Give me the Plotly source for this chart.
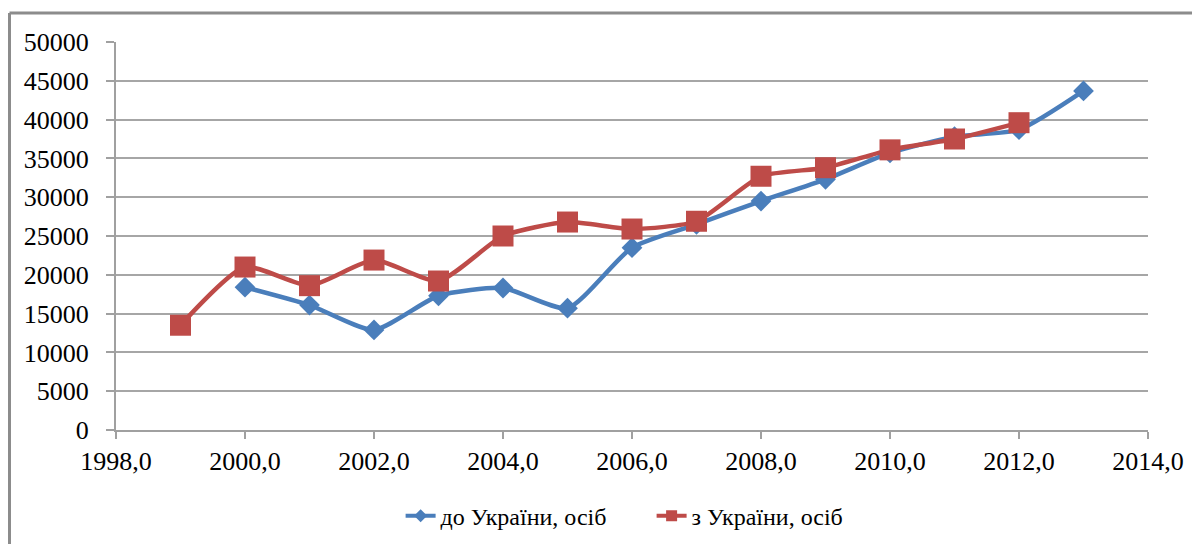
import plotly.graph_objects as go

years_in = [2000, 2001, 2002, 2003, 2004, 2005, 2006, 2007, 2008, 2009, 2010, 2011, 2012, 2013]
to_ukraine = [18400, 16100, 12900, 17300, 18300, 15700, 23500, 26500, 29500, 32300, 35700, 37800, 38700, 43700]

years_out = [1999, 2000, 2001, 2002, 2003, 2004, 2005, 2006, 2007, 2008, 2009, 2010, 2011, 2012]
from_ukraine = [13500, 21000, 18600, 21900, 19200, 25000, 26800, 25900, 26900, 32700, 33800, 36100, 37500, 39600]

name_in = "до України, осіб"
name_out = "з України, осіб"

BLUE = "#4A7EBB"
RED = "#BE4B48"
FONT = "Liberation Serif"

fig = go.Figure()
fig.add_trace(go.Scatter(
    x=years_in, y=to_ukraine, name=name_in, mode="lines+markers", showlegend=False,
    line=dict(color=BLUE, width=4.5, shape="spline", smoothing=0.6),
    marker=dict(symbol="diamond", size=16, color=BLUE),
))
fig.add_trace(go.Scatter(
    x=years_out, y=from_ukraine, name=name_out, mode="lines+markers", showlegend=False,
    line=dict(color=RED, width=4.5, shape="spline", smoothing=0.6),
    marker=dict(symbol="square", size=21, color=RED),
))
# legend entries with small markers, as in the reference
fig.add_trace(go.Scatter(
    x=[None], y=[None], name=name_in, mode="lines+markers",
    line=dict(color=BLUE, width=4), marker=dict(symbol="diamond", size=10, color=BLUE),
))
fig.add_trace(go.Scatter(
    x=[None], y=[None], name=name_out, mode="lines+markers",
    line=dict(color=RED, width=4), marker=dict(symbol="square", size=11, color=RED),
))

# the page body adds an 8px offset; size the figure so the plot lands where the reference has it
W, H = 1192, 536
L, R, T, B = 108, 52, 34, 114
pw, ph = W - L - R, H - T - B

fig.update_layout(
    template="none",
    width=W, height=H,
    margin=dict(l=L, r=R, t=T, b=B, autoexpand=False),
    paper_bgcolor="white", plot_bgcolor="white",
    separators=", ",
    font=dict(family=FONT, size=26, color="#000000"),
    showlegend=True,
    legend=dict(orientation="h", x=0.519, xanchor="center", y=-0.222, yanchor="middle",
                entrywidth=206, entrywidthmode="pixels",
                font=dict(family=FONT, size=24, color="#000000"), traceorder="normal"),
    xaxis=dict(range=[1998, 2014], dtick=2, tick0=1998, tickformat=".1f",
               showgrid=False, zeroline=False, showline=True, linecolor="#A0A0A0", linewidth=2,
               ticks="outside", ticklen=7, tickcolor="#A0A0A0", tickwidth=2,
               ticklabelstandoff=0,
               tickfont=dict(family=FONT, size=26, color="#000000"), automargin=False),
    yaxis=dict(range=[0, 50000], dtick=5000, tickformat="d",
               showgrid=True, gridcolor="#A6A6A6", gridwidth=2, zeroline=False,
               showline=True, linecolor="#A0A0A0", linewidth=2,
               ticks="outside", ticklen=8, tickcolor="#A0A0A0", tickwidth=2,
               ticklabelstandoff=12,
               tickfont=dict(family=FONT, size=26, color="#000000"), automargin=False),
)

# outer chart frame (left and top edges visible)
x0 = (1.5 - L) / pw
y0 = (H - B - 5) / ph
fig.add_shape(type="line", xref="paper", yref="paper", x0=x0, x1=x0, y0=y0, y1=-0.6,
              line=dict(color="#8C8C8C", width=3))
fig.add_shape(type="line", xref="paper", yref="paper", x0=x0, x1=1.1, y0=y0, y1=y0,
              line=dict(color="#8C8C8C", width=3))

fig.write_html("out.html")
